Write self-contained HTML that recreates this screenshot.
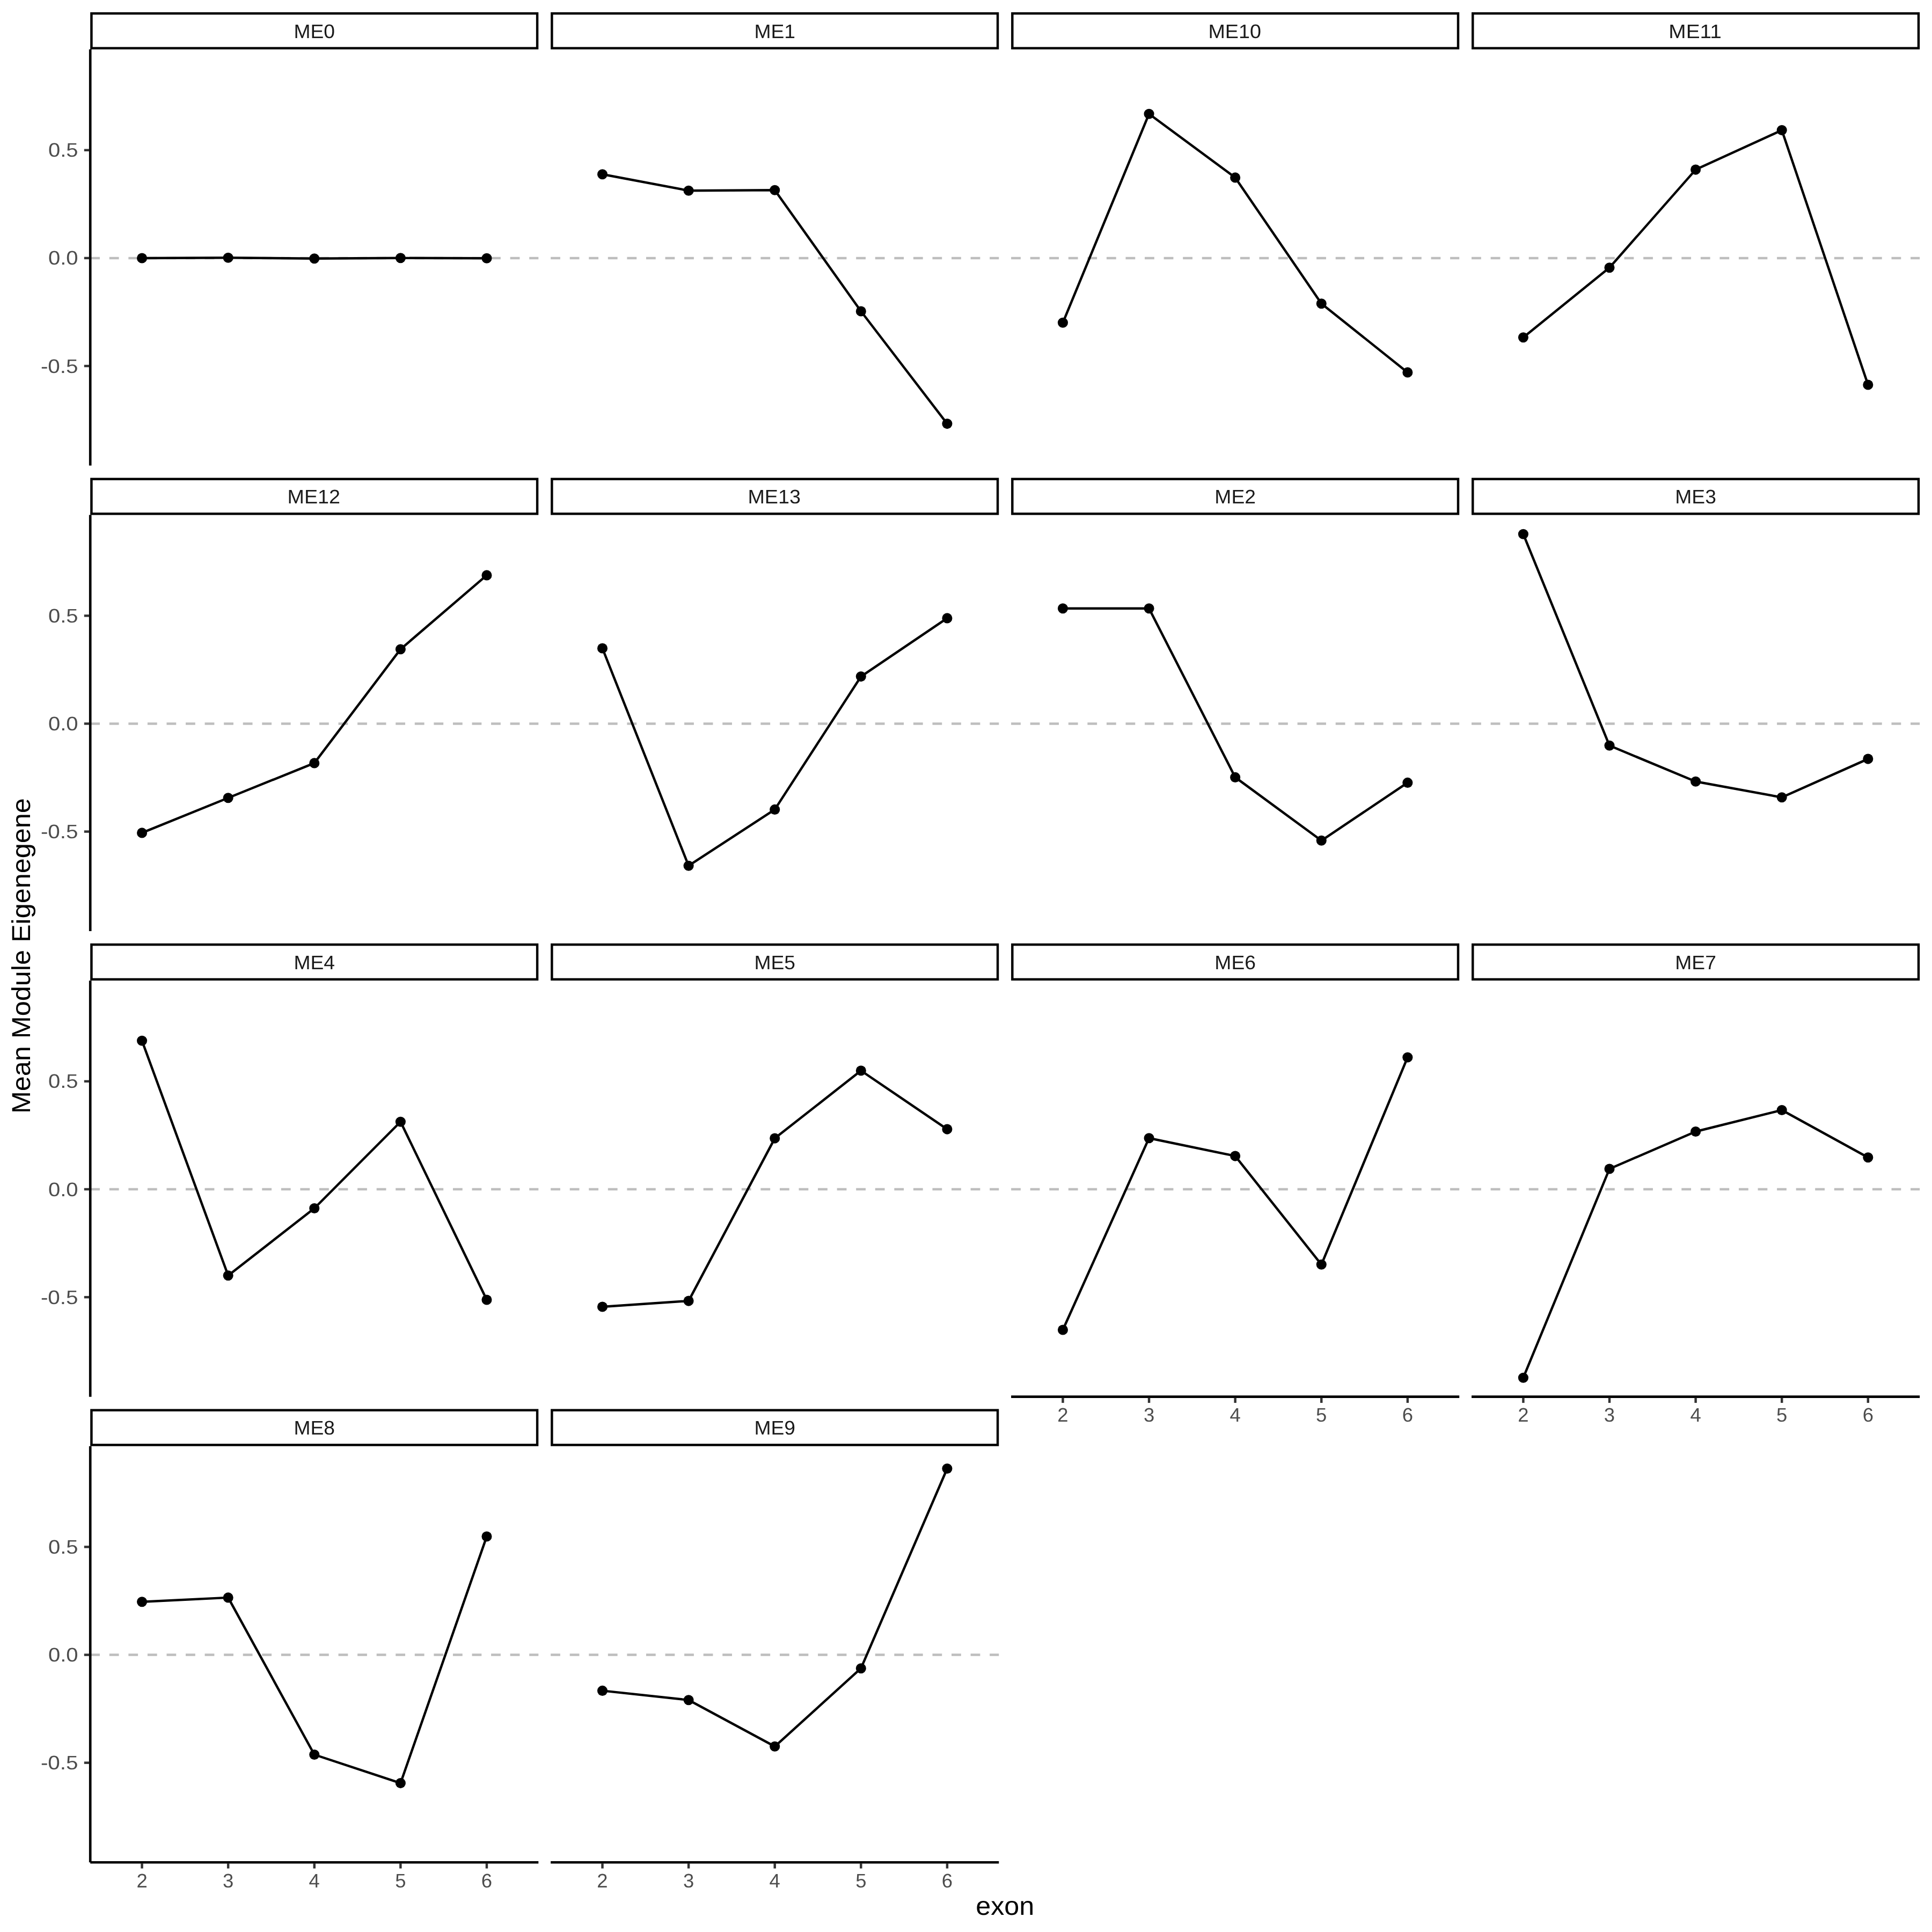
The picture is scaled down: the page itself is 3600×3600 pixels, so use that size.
<!DOCTYPE html>
<html lang="en"><head><meta charset="utf-8"><title>Mean Module Eigenegene by exon</title>
<style>
html,body{margin:0;padding:0;background:#fff;}
body{width:3600px;height:3600px;overflow:hidden;}
svg{display:block;}
text{font-family:"Liberation Sans",sans-serif;text-rendering:geometricPrecision;}
svg{will-change:transform;}
.st{font-size:36.5px;fill:#1a1a1a;text-anchor:middle;}
.tk{font-size:36.5px;fill:#4d4d4d;}
.yt{text-anchor:end;}
.xt{text-anchor:middle;}
.ti{font-size:48.4px;fill:#000;text-anchor:middle;}
.ax{stroke:#000;stroke-width:4.65;fill:none;}
.tc{stroke:#333;stroke-width:4.45;fill:none;}
.hl{stroke:#bebebe;stroke-width:4.45;stroke-dasharray:17.783 17.783;fill:none;}
.ln{stroke:#000;stroke-width:4.45;fill:none;stroke-linejoin:round;stroke-linecap:butt;}
.pt{fill:#000;}
.sb{fill:#fff;stroke:#000;stroke-width:4.45;}
</style></head><body>
<svg width="3600" height="3600" viewBox="0 0 3600 3600">
<rect x="0" y="0" width="3600" height="3600" fill="#fff"/>
<g id="panel-ME0">
<rect class="sb" x="170.42" y="25.05" width="830.67" height="64.77"/>
<text class="st" x="585.76" y="70.75" textLength="76.6" lengthAdjust="spacingAndGlyphs">ME0</text>
<line class="hl" x1="168.2" y1="480.9" x2="1003.32" y2="480.9"/>
<polyline class="ln" points="264.56,481 425.16,480.3 585.76,481.8 746.36,480.8 906.96,481.3"/>
<circle class="pt" cx="264.56" cy="481" r="9.55"/>
<circle class="pt" cx="425.16" cy="480.3" r="9.55"/>
<circle class="pt" cx="585.76" cy="481.8" r="9.55"/>
<circle class="pt" cx="746.36" cy="480.8" r="9.55"/>
<circle class="pt" cx="906.96" cy="481.3" r="9.55"/>
<line class="ax" x1="168.2" y1="92.05" x2="168.2" y2="867.55"/>
<line class="tc" x1="156.8" y1="279.8" x2="166.28" y2="279.8"/>
<text class="tk yt" x="145.6" y="292.3" textLength="55.6" lengthAdjust="spacingAndGlyphs">0.5</text>
<line class="tc" x1="156.8" y1="480.9" x2="166.28" y2="480.9"/>
<text class="tk yt" x="145.6" y="493.4" textLength="55.6" lengthAdjust="spacingAndGlyphs">0.0</text>
<line class="tc" x1="156.8" y1="682" x2="166.28" y2="682"/>
<text class="tk yt" x="145.6" y="694.5" textLength="69.7" lengthAdjust="spacingAndGlyphs">-0.5</text>
</g>
<g id="panel-ME1">
<rect class="sb" x="1028.37" y="25.05" width="830.67" height="64.77"/>
<text class="st" x="1443.71" y="70.75" textLength="76.6" lengthAdjust="spacingAndGlyphs">ME1</text>
<line class="hl" x1="1026.15" y1="480.9" x2="1861.27" y2="480.9"/>
<polyline class="ln" points="1122.51,324.8 1283.11,355.2 1443.71,354.3 1604.31,580 1764.91,789.6"/>
<circle class="pt" cx="1122.51" cy="324.8" r="9.55"/>
<circle class="pt" cx="1283.11" cy="355.2" r="9.55"/>
<circle class="pt" cx="1443.71" cy="354.3" r="9.55"/>
<circle class="pt" cx="1604.31" cy="580" r="9.55"/>
<circle class="pt" cx="1764.91" cy="789.6" r="9.55"/>
</g>
<g id="panel-ME10">
<rect class="sb" x="1886.32" y="25.05" width="830.67" height="64.77"/>
<text class="st" x="2300.66" y="70.75" textLength="98.5" lengthAdjust="spacingAndGlyphs">ME10</text>
<line class="hl" x1="1884.1" y1="480.9" x2="2719.22" y2="480.9"/>
<polyline class="ln" points="1980.46,601.3 2141.06,212.2 2301.66,330.9 2462.26,565.7 2622.86,693.9"/>
<circle class="pt" cx="1980.46" cy="601.3" r="9.55"/>
<circle class="pt" cx="2141.06" cy="212.2" r="9.55"/>
<circle class="pt" cx="2301.66" cy="330.9" r="9.55"/>
<circle class="pt" cx="2462.26" cy="565.7" r="9.55"/>
<circle class="pt" cx="2622.86" cy="693.9" r="9.55"/>
</g>
<g id="panel-ME11">
<rect class="sb" x="2744.27" y="25.05" width="830.67" height="64.77"/>
<text class="st" x="3158.61" y="70.75" textLength="98.5" lengthAdjust="spacingAndGlyphs">ME11</text>
<line class="hl" x1="2742.05" y1="480.9" x2="3577.17" y2="480.9"/>
<polyline class="ln" points="2838.41,628.7 2999.01,498.7 3159.61,316.1 3320.21,242.6 3480.81,717"/>
<circle class="pt" cx="2838.41" cy="628.7" r="9.55"/>
<circle class="pt" cx="2999.01" cy="498.7" r="9.55"/>
<circle class="pt" cx="3159.61" cy="316.1" r="9.55"/>
<circle class="pt" cx="3320.21" cy="242.6" r="9.55"/>
<circle class="pt" cx="3480.81" cy="717" r="9.55"/>
</g>
<g id="panel-ME12">
<rect class="sb" x="170.42" y="892.6" width="830.67" height="64.77"/>
<text class="st" x="584.76" y="938.3" textLength="98.5" lengthAdjust="spacingAndGlyphs">ME12</text>
<line class="hl" x1="168.2" y1="1348.45" x2="1003.32" y2="1348.45"/>
<polyline class="ln" points="264.56,1551.9 425.16,1486.7 585.76,1421.9 746.36,1209.7 906.96,1071.9"/>
<circle class="pt" cx="264.56" cy="1551.9" r="9.55"/>
<circle class="pt" cx="425.16" cy="1486.7" r="9.55"/>
<circle class="pt" cx="585.76" cy="1421.9" r="9.55"/>
<circle class="pt" cx="746.36" cy="1209.7" r="9.55"/>
<circle class="pt" cx="906.96" cy="1071.9" r="9.55"/>
<line class="ax" x1="168.2" y1="959.6" x2="168.2" y2="1735.1"/>
<line class="tc" x1="156.8" y1="1147.35" x2="166.28" y2="1147.35"/>
<text class="tk yt" x="145.6" y="1159.85" textLength="55.6" lengthAdjust="spacingAndGlyphs">0.5</text>
<line class="tc" x1="156.8" y1="1348.45" x2="166.28" y2="1348.45"/>
<text class="tk yt" x="145.6" y="1360.95" textLength="55.6" lengthAdjust="spacingAndGlyphs">0.0</text>
<line class="tc" x1="156.8" y1="1549.55" x2="166.28" y2="1549.55"/>
<text class="tk yt" x="145.6" y="1562.05" textLength="69.7" lengthAdjust="spacingAndGlyphs">-0.5</text>
</g>
<g id="panel-ME13">
<rect class="sb" x="1028.37" y="892.6" width="830.67" height="64.77"/>
<text class="st" x="1442.71" y="938.3" textLength="98.5" lengthAdjust="spacingAndGlyphs">ME13</text>
<line class="hl" x1="1026.15" y1="1348.45" x2="1861.27" y2="1348.45"/>
<polyline class="ln" points="1122.51,1208 1283.11,1613.2 1443.71,1508.4 1604.31,1260.6 1764.91,1151.9"/>
<circle class="pt" cx="1122.51" cy="1208" r="9.55"/>
<circle class="pt" cx="1283.11" cy="1613.2" r="9.55"/>
<circle class="pt" cx="1443.71" cy="1508.4" r="9.55"/>
<circle class="pt" cx="1604.31" cy="1260.6" r="9.55"/>
<circle class="pt" cx="1764.91" cy="1151.9" r="9.55"/>
</g>
<g id="panel-ME2">
<rect class="sb" x="1886.32" y="892.6" width="830.67" height="64.77"/>
<text class="st" x="2301.66" y="938.3" textLength="76.6" lengthAdjust="spacingAndGlyphs">ME2</text>
<line class="hl" x1="1884.1" y1="1348.45" x2="2719.22" y2="1348.45"/>
<polyline class="ln" points="1980.46,1133.7 2141.06,1133.7 2301.66,1448.4 2462.26,1566.3 2622.86,1458.4"/>
<circle class="pt" cx="1980.46" cy="1133.7" r="9.55"/>
<circle class="pt" cx="2141.06" cy="1133.7" r="9.55"/>
<circle class="pt" cx="2301.66" cy="1448.4" r="9.55"/>
<circle class="pt" cx="2462.26" cy="1566.3" r="9.55"/>
<circle class="pt" cx="2622.86" cy="1458.4" r="9.55"/>
</g>
<g id="panel-ME3">
<rect class="sb" x="2744.27" y="892.6" width="830.67" height="64.77"/>
<text class="st" x="3159.61" y="938.3" textLength="76.6" lengthAdjust="spacingAndGlyphs">ME3</text>
<line class="hl" x1="2742.05" y1="1348.45" x2="3577.17" y2="1348.45"/>
<polyline class="ln" points="2838.41,995.2 2999.01,1389.3 3159.61,1456.3 3320.21,1485.8 3480.81,1414.1"/>
<circle class="pt" cx="2838.41" cy="995.2" r="9.55"/>
<circle class="pt" cx="2999.01" cy="1389.3" r="9.55"/>
<circle class="pt" cx="3159.61" cy="1456.3" r="9.55"/>
<circle class="pt" cx="3320.21" cy="1485.8" r="9.55"/>
<circle class="pt" cx="3480.81" cy="1414.1" r="9.55"/>
</g>
<g id="panel-ME4">
<rect class="sb" x="170.42" y="1760.15" width="830.67" height="64.77"/>
<text class="st" x="585.76" y="1805.85" textLength="76.6" lengthAdjust="spacingAndGlyphs">ME4</text>
<line class="hl" x1="168.2" y1="2216" x2="1003.32" y2="2216"/>
<polyline class="ln" points="264.56,1939.3 425.16,2376.7 585.76,2251.5 746.36,2090.2 906.96,2422"/>
<circle class="pt" cx="264.56" cy="1939.3" r="9.55"/>
<circle class="pt" cx="425.16" cy="2376.7" r="9.55"/>
<circle class="pt" cx="585.76" cy="2251.5" r="9.55"/>
<circle class="pt" cx="746.36" cy="2090.2" r="9.55"/>
<circle class="pt" cx="906.96" cy="2422" r="9.55"/>
<line class="ax" x1="168.2" y1="1827.15" x2="168.2" y2="2602.65"/>
<line class="tc" x1="156.8" y1="2014.9" x2="166.28" y2="2014.9"/>
<text class="tk yt" x="145.6" y="2027.4" textLength="55.6" lengthAdjust="spacingAndGlyphs">0.5</text>
<line class="tc" x1="156.8" y1="2216" x2="166.28" y2="2216"/>
<text class="tk yt" x="145.6" y="2228.5" textLength="55.6" lengthAdjust="spacingAndGlyphs">0.0</text>
<line class="tc" x1="156.8" y1="2417.1" x2="166.28" y2="2417.1"/>
<text class="tk yt" x="145.6" y="2429.6" textLength="69.7" lengthAdjust="spacingAndGlyphs">-0.5</text>
</g>
<g id="panel-ME5">
<rect class="sb" x="1028.37" y="1760.15" width="830.67" height="64.77"/>
<text class="st" x="1443.71" y="1805.85" textLength="76.6" lengthAdjust="spacingAndGlyphs">ME5</text>
<line class="hl" x1="1026.15" y1="2216" x2="1861.27" y2="2216"/>
<polyline class="ln" points="1122.51,2435 1283.11,2424.1 1443.71,2121.1 1604.31,1995 1764.91,2104.1"/>
<circle class="pt" cx="1122.51" cy="2435" r="9.55"/>
<circle class="pt" cx="1283.11" cy="2424.1" r="9.55"/>
<circle class="pt" cx="1443.71" cy="2121.1" r="9.55"/>
<circle class="pt" cx="1604.31" cy="1995" r="9.55"/>
<circle class="pt" cx="1764.91" cy="2104.1" r="9.55"/>
</g>
<g id="panel-ME6">
<rect class="sb" x="1886.32" y="1760.15" width="830.67" height="64.77"/>
<text class="st" x="2301.66" y="1805.85" textLength="76.6" lengthAdjust="spacingAndGlyphs">ME6</text>
<line class="hl" x1="1884.1" y1="2216" x2="2719.22" y2="2216"/>
<polyline class="ln" points="1980.46,2478 2141.06,2120.7 2301.66,2154.1 2462.26,2356.3 2622.86,1970.2"/>
<circle class="pt" cx="1980.46" cy="2478" r="9.55"/>
<circle class="pt" cx="2141.06" cy="2120.7" r="9.55"/>
<circle class="pt" cx="2301.66" cy="2154.1" r="9.55"/>
<circle class="pt" cx="2462.26" cy="2356.3" r="9.55"/>
<circle class="pt" cx="2622.86" cy="1970.2" r="9.55"/>
<line class="ax" x1="1884.1" y1="2602.65" x2="2719.22" y2="2602.65"/>
<line class="tc" x1="1980.46" y1="2604.57" x2="1980.46" y2="2614.05"/>
<text class="tk xt" x="1980.46" y="2649.25">2</text>
<line class="tc" x1="2141.06" y1="2604.57" x2="2141.06" y2="2614.05"/>
<text class="tk xt" x="2141.06" y="2649.25">3</text>
<line class="tc" x1="2301.66" y1="2604.57" x2="2301.66" y2="2614.05"/>
<text class="tk xt" x="2301.66" y="2649.25">4</text>
<line class="tc" x1="2462.26" y1="2604.57" x2="2462.26" y2="2614.05"/>
<text class="tk xt" x="2462.26" y="2649.25">5</text>
<line class="tc" x1="2622.86" y1="2604.57" x2="2622.86" y2="2614.05"/>
<text class="tk xt" x="2622.86" y="2649.25">6</text>
</g>
<g id="panel-ME7">
<rect class="sb" x="2744.27" y="1760.15" width="830.67" height="64.77"/>
<text class="st" x="3159.61" y="1805.85" textLength="76.6" lengthAdjust="spacingAndGlyphs">ME7</text>
<line class="hl" x1="2742.05" y1="2216" x2="3577.17" y2="2216"/>
<polyline class="ln" points="2838.41,2567.2 2999.01,2178 3159.61,2108.5 3320.21,2068.5 3480.81,2156.7"/>
<circle class="pt" cx="2838.41" cy="2567.2" r="9.55"/>
<circle class="pt" cx="2999.01" cy="2178" r="9.55"/>
<circle class="pt" cx="3159.61" cy="2108.5" r="9.55"/>
<circle class="pt" cx="3320.21" cy="2068.5" r="9.55"/>
<circle class="pt" cx="3480.81" cy="2156.7" r="9.55"/>
<line class="ax" x1="2742.05" y1="2602.65" x2="3577.17" y2="2602.65"/>
<line class="tc" x1="2838.41" y1="2604.57" x2="2838.41" y2="2614.05"/>
<text class="tk xt" x="2838.41" y="2649.25">2</text>
<line class="tc" x1="2999.01" y1="2604.57" x2="2999.01" y2="2614.05"/>
<text class="tk xt" x="2999.01" y="2649.25">3</text>
<line class="tc" x1="3159.61" y1="2604.57" x2="3159.61" y2="2614.05"/>
<text class="tk xt" x="3159.61" y="2649.25">4</text>
<line class="tc" x1="3320.21" y1="2604.57" x2="3320.21" y2="2614.05"/>
<text class="tk xt" x="3320.21" y="2649.25">5</text>
<line class="tc" x1="3480.81" y1="2604.57" x2="3480.81" y2="2614.05"/>
<text class="tk xt" x="3480.81" y="2649.25">6</text>
</g>
<g id="panel-ME8">
<rect class="sb" x="170.42" y="2627.7" width="830.67" height="64.77"/>
<text class="st" x="585.76" y="2673.4" textLength="76.6" lengthAdjust="spacingAndGlyphs">ME8</text>
<line class="hl" x1="168.2" y1="3083.55" x2="1003.32" y2="3083.55"/>
<polyline class="ln" points="264.56,2984.7 425.16,2976.9 585.76,3269.5 746.36,3322.6 906.96,2863"/>
<circle class="pt" cx="264.56" cy="2984.7" r="9.55"/>
<circle class="pt" cx="425.16" cy="2976.9" r="9.55"/>
<circle class="pt" cx="585.76" cy="3269.5" r="9.55"/>
<circle class="pt" cx="746.36" cy="3322.6" r="9.55"/>
<circle class="pt" cx="906.96" cy="2863" r="9.55"/>
<line class="ax" x1="168.2" y1="2694.7" x2="168.2" y2="3470.2"/>
<line class="tc" x1="156.8" y1="2882.45" x2="166.28" y2="2882.45"/>
<text class="tk yt" x="145.6" y="2894.95" textLength="55.6" lengthAdjust="spacingAndGlyphs">0.5</text>
<line class="tc" x1="156.8" y1="3083.55" x2="166.28" y2="3083.55"/>
<text class="tk yt" x="145.6" y="3096.05" textLength="55.6" lengthAdjust="spacingAndGlyphs">0.0</text>
<line class="tc" x1="156.8" y1="3284.65" x2="166.28" y2="3284.65"/>
<text class="tk yt" x="145.6" y="3297.15" textLength="69.7" lengthAdjust="spacingAndGlyphs">-0.5</text>
<line class="ax" x1="168.2" y1="3470.2" x2="1003.32" y2="3470.2"/>
<line class="tc" x1="264.56" y1="3472.12" x2="264.56" y2="3481.6"/>
<text class="tk xt" x="264.56" y="3516.8">2</text>
<line class="tc" x1="425.16" y1="3472.12" x2="425.16" y2="3481.6"/>
<text class="tk xt" x="425.16" y="3516.8">3</text>
<line class="tc" x1="585.76" y1="3472.12" x2="585.76" y2="3481.6"/>
<text class="tk xt" x="585.76" y="3516.8">4</text>
<line class="tc" x1="746.36" y1="3472.12" x2="746.36" y2="3481.6"/>
<text class="tk xt" x="746.36" y="3516.8">5</text>
<line class="tc" x1="906.96" y1="3472.12" x2="906.96" y2="3481.6"/>
<text class="tk xt" x="906.96" y="3516.8">6</text>
</g>
<g id="panel-ME9">
<rect class="sb" x="1028.37" y="2627.7" width="830.67" height="64.77"/>
<text class="st" x="1443.71" y="2673.4" textLength="76.6" lengthAdjust="spacingAndGlyphs">ME9</text>
<line class="hl" x1="1026.15" y1="3083.55" x2="1861.27" y2="3083.55"/>
<polyline class="ln" points="1122.51,3150.4 1283.11,3167.8 1443.71,3254.3 1604.31,3108.7 1764.91,2736.5"/>
<circle class="pt" cx="1122.51" cy="3150.4" r="9.55"/>
<circle class="pt" cx="1283.11" cy="3167.8" r="9.55"/>
<circle class="pt" cx="1443.71" cy="3254.3" r="9.55"/>
<circle class="pt" cx="1604.31" cy="3108.7" r="9.55"/>
<circle class="pt" cx="1764.91" cy="2736.5" r="9.55"/>
<line class="ax" x1="1026.15" y1="3470.2" x2="1861.27" y2="3470.2"/>
<line class="tc" x1="1122.51" y1="3472.12" x2="1122.51" y2="3481.6"/>
<text class="tk xt" x="1122.51" y="3516.8">2</text>
<line class="tc" x1="1283.11" y1="3472.12" x2="1283.11" y2="3481.6"/>
<text class="tk xt" x="1283.11" y="3516.8">3</text>
<line class="tc" x1="1443.71" y1="3472.12" x2="1443.71" y2="3481.6"/>
<text class="tk xt" x="1443.71" y="3516.8">4</text>
<line class="tc" x1="1604.31" y1="3472.12" x2="1604.31" y2="3481.6"/>
<text class="tk xt" x="1604.31" y="3516.8">5</text>
<line class="tc" x1="1764.91" y1="3472.12" x2="1764.91" y2="3481.6"/>
<text class="tk xt" x="1764.91" y="3516.8">6</text>
</g>
<text class="ti" x="1872.68" y="3568.1" textLength="109" lengthAdjust="spacingAndGlyphs">exon</text>
<text class="ti" transform="translate(56.3 1781.12) rotate(-90)" x="0" y="0" textLength="588" lengthAdjust="spacingAndGlyphs">Mean Module Eigenegene</text>
</svg>
</body></html>
